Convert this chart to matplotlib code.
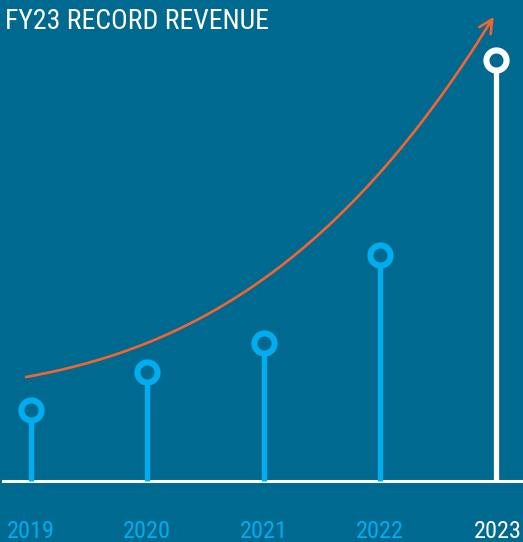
import matplotlib.pyplot as plt
import numpy as np

# colours
bg = "#00698F"
cyan = "#00AEEF"
orange = "#F26531"
white = "#FFFFFF"

# data (relative revenue)
years = ["2019", "2020", "2021", "2022", "2023"]
revenue = [71, 109, 138, 226, 421]

# growth arrow, points
trend_x = [-0.04, 0.59, 1.45, 1.88, 2.31, 2.74, 3.32, 3.60, 3.86, 3.98]
trend_y = [106, 118, 161, 194, 232, 281, 348, 391, 441, 470]

font = ["Roboto Condensed", "DejaVu Sans"]

fig = plt.figure(figsize=(5.23, 5.42), dpi=100, facecolor=bg)
ax = fig.add_axes([0, 0, 1, 1])
ax.set_facecolor(bg)
ax.set_xlim(-0.267, 4.232)
ax.set_ylim(-61, 481)
ax.axis("off")

x = np.arange(len(years))
colors = [cyan] * 4 + [white]

# baseline
ax.axhline(0, xmin=3 / 523, xmax=1, color=white, lw=2.2, zorder=2)

# stems with open circles
for i in range(len(years)):
    ax.plot([x[i], x[i]], [0, revenue[i]], color=colors[i], lw=3.8,
            solid_capstyle="butt", zorder=3)
    ax.plot(x[i], revenue[i], "o", ms=14.5, mew=4.4, mec=colors[i], mfc=bg,
            zorder=4)
    ha = "right" if i == len(years) - 1 else "center"
    xt = 4.225 if i == len(years) - 1 else x[i]
    ax.text(xt, -57, years[i], color=colors[i], fontsize=17.5,
            family=font, ha=ha, va="baseline")

# smoothed trend curve with arrow head
coef = np.polyfit(trend_x, trend_y, 3)
xs = np.linspace(trend_x[0], trend_x[-1], 200)
ys = np.polyval(coef, xs)
ax.plot(xs[:-8], ys[:-8], color=orange, lw=1.9, zorder=1)
ax.annotate("", xy=(xs[-1], ys[-1]), xytext=(xs[-9], ys[-9]),
            arrowprops=dict(arrowstyle="->", color=orange, lw=1.9,
                            mutation_scale=24, shrinkA=0, shrinkB=0))

fig.text(5 / 523, 1 - 29 / 542, "FY23 RECORD REVENUE", color=white,
         fontsize=20, family=font, ha="left", va="baseline")

fig.savefig("out.png", dpi=100, facecolor=bg)
